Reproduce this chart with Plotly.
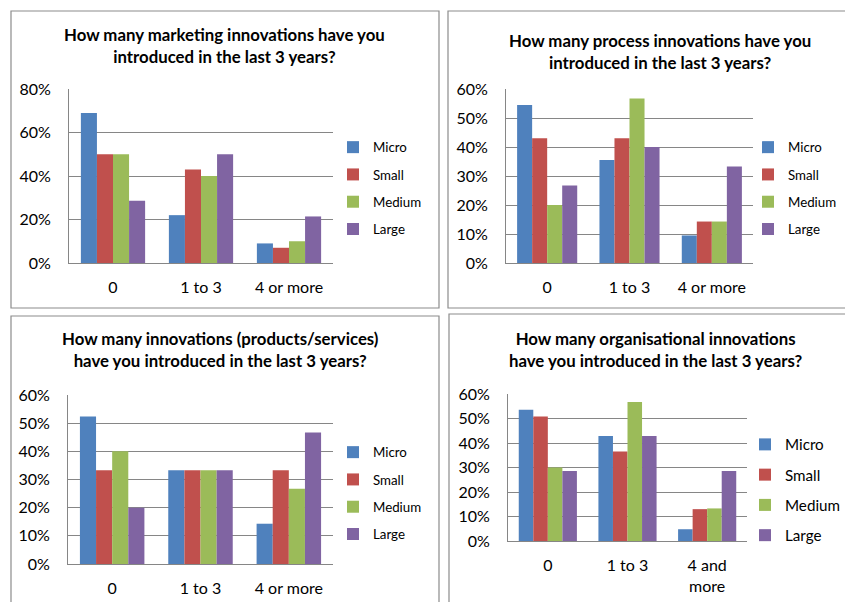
import plotly.graph_objects as go

W, H = 845, 602

series = ["Micro", "Small", "Medium", "Large"]
colors = ["#4F81BD", "#C0504D", "#9BBB59", "#8064A2"]

cats_std = ["0", "1 to 3", "4 or more"]
cats_org = ["0", "1 to 3", "4 and<br>more"]

titles = [
    "How many marketing innovations have you<br>introduced in the last 3 years?",
    "How many process innovations have you<br>introduced in the last 3 years?",
    "How many innovations (products/services)<br>have you introduced in the last 3 years?",
    "How many organisational innovations<br>have you introduced in the last 3 years?",
]

# values per chart: [Micro, Small, Medium, Large] over categories
marketing = {
    "Micro": [0.69, 0.22, 0.09],
    "Small": [0.50, 0.43, 0.07],
    "Medium": [0.50, 0.40, 0.10],
    "Large": [0.286, 0.50, 0.214],
}
process = {
    "Micro": [0.545, 0.355, 0.095],
    "Small": [0.43, 0.43, 0.143],
    "Medium": [0.20, 0.567, 0.143],
    "Large": [0.267, 0.40, 0.333],
}
products = {
    "Micro": [0.524, 0.333, 0.143],
    "Small": [0.333, 0.333, 0.333],
    "Medium": [0.40, 0.333, 0.267],
    "Large": [0.20, 0.333, 0.467],
}
organisational = {
    "Micro": [0.536, 0.429, 0.048],
    "Small": [0.508, 0.365, 0.13],
    "Medium": [0.30, 0.567, 0.133],
    "Large": [0.286, 0.429, 0.286],
}

charts = [marketing, process, products, organisational]
cats = [cats_std, cats_std, cats_std, cats_org]
ymax = [0.8, 0.6, 0.6, 0.6]
dtick = [0.2, 0.1, 0.1, 0.1]

# layout geometry in pixels
plot_px = [  # x0, x1, ytop, ybottom
    (69, 333, 89, 263),
    (506, 753, 89, 263),
    (68, 333, 395, 564),
    (508, 747, 394, 541),
]
border_px = [(11, 11, 439, 308), (448, 11, 850, 308), (11, 316, 439, 610), (449, 314, 850, 610)]
title_px = [(224, 46), (660, 51), (220, 349.5), (655, 349)]
legend_px = [(333, 132, "left"), (748, 132, "left"), (333, 437, "left"), (845, 428, "right")]
legend_font = [13.3, 13.3, 13.3, 15.2]
legend_gap = [7, 7, 7, 7.5]

FONT = "Lato, Calibri, Arial, sans-serif"
GRID = "#868686"
TICK = 16

fig = go.Figure()
layout = dict(
    width=W, height=H, margin=dict(l=0, r=0, t=0, b=0, autoexpand=False),
    paper_bgcolor="white", plot_bgcolor="white",
    barmode="group", bargap=0.27, bargroupgap=0,
    font=dict(family=FONT, color="black"),
    shapes=[], annotations=[],
)

for i, data in enumerate(charts):
    n = "" if i == 0 else str(i + 1)
    xa, ya = "x" + n, "y" + n
    lg = "legend" + n
    for s, c in zip(series, colors):
        fig.add_trace(go.Bar(
            x=cats[i], y=data[s], name=s, marker=dict(color=c, line=dict(width=0)),
            xaxis=xa, yaxis=ya, legend=lg, legendgroup=s + n, showlegend=True,
            offsetgroup=s,
        ))
    x0, x1, yt, yb = plot_px[i]
    layout["xaxis" + n] = dict(
        domain=[x0 / W, x1 / W], anchor=ya, showgrid=False, showline=True,
        linecolor=GRID, linewidth=1, ticks="", tickfont=dict(size=TICK, family=FONT),
        ticklabelstandoff=10, fixedrange=True, automargin=False,
    )
    layout["yaxis" + n] = dict(
        domain=[1 - yb / H, 1 - yt / H], anchor=xa, range=[0, ymax[i]], dtick=dtick[i],
        tickformat=".0%", showgrid=True, gridcolor=GRID, gridwidth=1,
        showline=True, linecolor=GRID, linewidth=1, zeroline=False, ticks="",
        tickfont=dict(size=TICK, family=FONT), ticklabelstandoff=14, fixedrange=True,
        automargin=False,
    )
    lx, ly, anc = legend_px[i]
    layout[lg] = dict(
        x=lx / W, y=1 - ly / H, xanchor=anc, yanchor="top",
        font=dict(size=legend_font[i], family=FONT), bgcolor="rgba(0,0,0,0)",
        tracegroupgap=legend_gap[i], itemwidth=30,
    )
    bx0, by0, bx1, by1 = border_px[i]
    layout["shapes"].append(dict(
        type="rect", xref="paper", yref="paper",
        x0=bx0 / W, x1=bx1 / W, y0=1 - by1 / H, y1=1 - by0 / H,
        line=dict(color="#8C8C8C", width=1.2), fillcolor="rgba(0,0,0,0)", layer="below",
    ))
    tx, ty = title_px[i]
    layout["annotations"].append(dict(
        text="<b>" + titles[i] + "</b>", x=tx / W, y=1 - ty / H, xref="paper", yref="paper",
        xanchor="center", yanchor="middle", showarrow=False,
        font=dict(size=16.8, family=FONT, color="black"), align="center",
    ))

fig.update_layout(**layout)
fig.write_html(
    "out.html",
    config={"displayModeBar": False},
    post_script=(
        "document.documentElement.style.overflow='hidden';"
        "document.body.style.margin='0';document.body.style.overflow='hidden';"
        "var d=document.getElementById('{plot_id}');"
        "d.style.position='fixed';d.style.left='0px';d.style.top='0px';"
    ),
)
